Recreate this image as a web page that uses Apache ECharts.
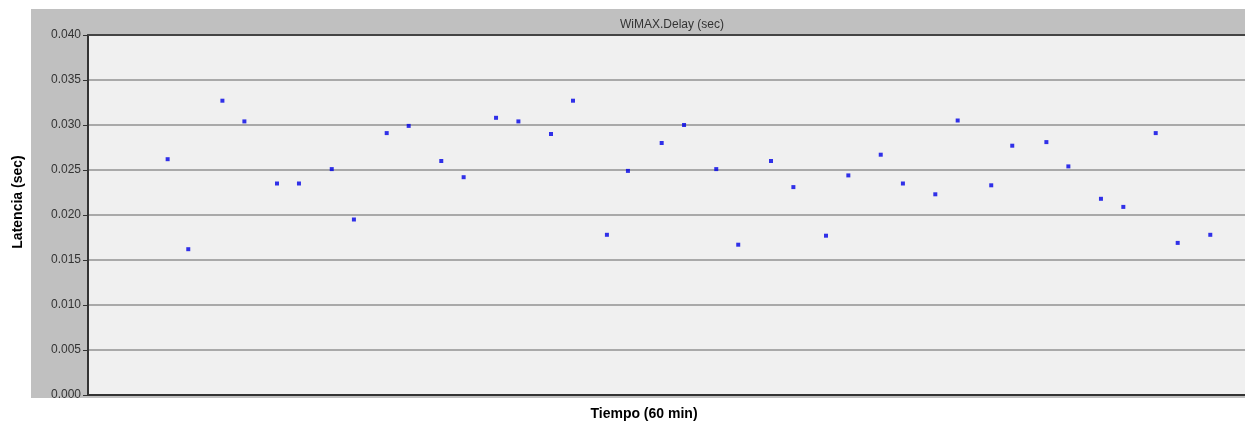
<!DOCTYPE html>
<html>
<head>
<meta charset="utf-8">
<script src="https://cdn.jsdelivr.net/npm/echarts@6/dist/echarts.min.js"></script>
<style>
html,body{margin:0;padding:0;background:#fff;}
#chart{width:1245px;height:426px;}
</style>
</head>
<body>
<div id="chart"></div>
<script>
// Time of each sample (minutes within the 60-minute window)
const timeMin = [4.13, 5.20, 6.97, 8.11, 9.80, 10.94, 12.64, 13.79, 15.49, 16.63,
  18.32, 19.48, 21.16, 22.32, 24.01, 25.15, 26.91, 28.00, 29.75, 30.91,
  32.58, 33.72, 35.42, 36.58, 38.27, 39.43, 41.11, 42.26, 43.94, 45.10,
  46.84, 47.93, 49.70, 50.84, 52.53, 53.69, 55.37, 56.51, 58.20];
// WiMAX delay (sec)
const delaySec = [0.0262, 0.0162, 0.0327, 0.0304, 0.0235, 0.0235, 0.0251, 0.0195, 0.0291, 0.0299,
  0.0260, 0.0242, 0.0308, 0.0304, 0.0290, 0.0327, 0.0178, 0.0249, 0.0280, 0.0300,
  0.0251, 0.0167, 0.0260, 0.0231, 0.0177, 0.0244, 0.0267, 0.0235, 0.0223, 0.0305,
  0.0233, 0.0277, 0.0281, 0.0254, 0.0218, 0.0209, 0.0291, 0.0169, 0.0178];
const yTicks = [0.000, 0.005, 0.010, 0.015, 0.020, 0.025, 0.030, 0.035, 0.040];
const chartTitle = 'WiMAX.Delay (sec)';
const xName = 'Tiempo (60 min)';
const yName = 'Latencia (sec)';

const points = timeMin.map((t, i) => [t, delaySec[i]]);

const chart = echarts.init(document.getElementById('chart'), null, {renderer: 'canvas'});
chart.setOption({
  animation: false,
  backgroundColor: '#ffffff',
  textStyle: {fontFamily: 'Arial, "Liberation Sans", sans-serif'},
  graphic: [
    {type: 'rect', z: -100, silent: true,
     shape: {x: 31, y: 9, width: 1214, height: 389},
     style: {fill: '#c0c0c0'}},
    {type: 'text', z: 100, silent: true, x: 18, y: 202, rotation: Math.PI / 2,
     style: {text: yName, fill: '#000', font: 'bold 14px Arial, "Liberation Sans", sans-serif',
             align: 'center', verticalAlign: 'middle'}},
    {type: 'text', z: 100, silent: true, x: 644, y: 414,
     style: {text: xName, fill: '#000', font: 'bold 14px Arial, "Liberation Sans", sans-serif',
             align: 'center', verticalAlign: 'middle'}}
  ],
  title: {
    text: chartTitle, left: 667, top: 14, textAlign: 'center',
    textStyle: {fontSize: 12, fontWeight: 'normal', color: '#333', fontFamily: 'Arial, "Liberation Sans", sans-serif'}
  },
  grid: {left: 88, top: 35, right: 0, bottom: 31, show: true,
         backgroundColor: '#f0f0f0', borderWidth: 0, containLabel: false},
  xAxis: [
    {type: 'value', min: 0, max: 60, position: 'bottom',
     axisLine: {show: true, lineStyle: {color: '#333', width: 2}},
     axisTick: {show: false}, axisLabel: {show: false}, splitLine: {show: false}},
    {type: 'value', min: 0, max: 60, position: 'top',
     axisLine: {show: true, lineStyle: {color: '#444', width: 2}},
     axisTick: {show: false}, axisLabel: {show: false}, splitLine: {show: false}}
  ],
  yAxis: {
    type: 'value', min: yTicks[0], max: yTicks[yTicks.length - 1], interval: 0.005,
    axisLine: {show: true, onZero: false, lineStyle: {color: '#333', width: 2}},
    axisTick: {show: true, length: 5, lineStyle: {color: '#333', width: 1}},
    axisLabel: {margin: 7, color: '#333', fontSize: 12,
                formatter: v => v.toFixed(3)},
    splitLine: {show: true, lineStyle: {color: '#a9a9a9', width: 2}}
  },
  series: [{
    type: 'scatter', xAxisIndex: 0, data: points,
    symbol: 'rect', symbolSize: 4,
    itemStyle: {color: '#0000e6'}
  }]
});
</script>
</body>
</html>
